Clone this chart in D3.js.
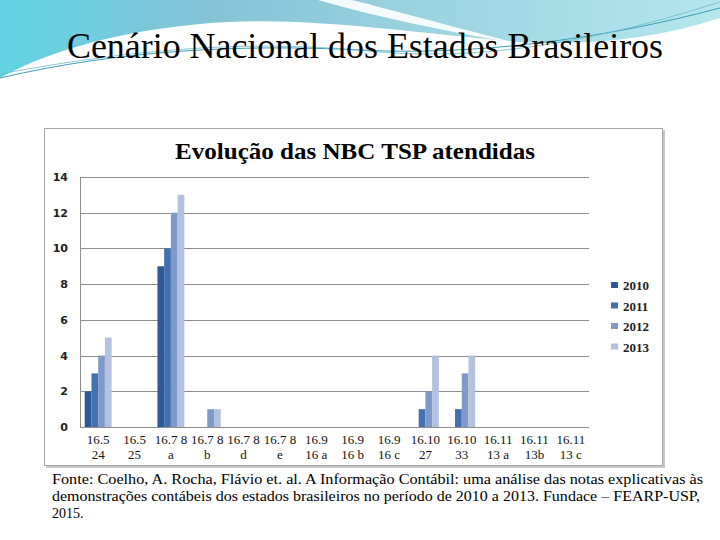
<!DOCTYPE html>
<html>
<head>
<meta charset="utf-8">
<script src="https://cdn.jsdelivr.net/npm/d3@7"></script>
<style>
  body { margin: 0; background: #fff; }
  svg { display: block; }
  .serif { font-family: 'Liberation Serif', 'Times New Roman', serif; }
</style>
</head>
<body>
<svg id="slide" width="720" height="540"></svg>
<script>
// categories (two-line labels) and one value array per year
var categories = ['16.5 24', '16.5 25', '16.7 8 a', '16.7 8 b', '16.7 8 d', '16.7 8 e',
  '16.9 16 a', '16.9 16 b', '16.9 16 c', '16.10 27', '16.10 33', '16.11 13 a', '16.11 13b', '16.11 13 c'];
var labelTop = ['16.5', '16.5', '16.7 8', '16.7 8', '16.7 8', '16.7 8', '16.9', '16.9', '16.9',
  '16.10', '16.10', '16.11', '16.11', '16.11'];
var labelBottom = ['24', '25', 'a', 'b', 'd', 'e', '16 a', '16 b', '16 c', '27', '33', '13 a', '13b', '13 c'];
var years = ['2010', '2011', '2012', '2013'];
var v2010 = [2, 0, 9, 0, 0, 0, 0, 0, 0, 0, 0, 0, 0, 0];
var v2011 = [3, 0, 10, 0, 0, 0, 0, 0, 0, 1, 1, 0, 0, 0];
var v2012 = [4, 0, 12, 1, 0, 0, 0, 0, 0, 2, 3, 0, 0, 0];
var v2013 = [5, 0, 13, 1, 0, 0, 0, 0, 0, 4, 4, 0, 0, 0];
var yTicks = [0, 2, 4, 6, 8, 10, 12, 14];

var series = [v2010, v2011, v2012, v2013];
var colors = ['#2d5a96', '#4270b0', '#7f99c9', '#b3c2df'];

const drawSlide = () => {
  var svg = d3.select('#slide');

  // decorative header swoosh
  var defs = svg.append('defs');
  var grad = defs.append('linearGradient').attr('id', 'sky')
    .attr('x1', '0').attr('y1', '0').attr('x2', '1').attr('y2', '0');
  grad.append('stop').attr('offset', '0').attr('stop-color', '#62d3e3');
  grad.append('stop').attr('offset', '0.3').attr('stop-color', '#86c3d6');
  grad.append('stop').attr('offset', '0.65').attr('stop-color', '#9fd6e2');
  grad.append('stop').attr('offset', '1').attr('stop-color', '#b6e6ee');

  svg.append('path')
    .attr('d', 'M0,0 L720,0 L720,18 C660,38 590,46 520,42 C420,34 300,14 200,24 C110,32 40,55 0,78 Z')
    .attr('fill', 'url(#sky)');
  svg.append('path')
    .attr('d', 'M318,0 C380,18 450,32 520,44 C450,26 400,12 352,0 Z')
    .attr('fill', '#ffffff').attr('opacity', 0.9);
  svg.append('path')
    .attr('d', 'M0,78 C120,50 240,44 360,50 C470,56 600,40 720,8')
    .attr('fill', 'none').attr('stroke', '#3f9fb5').attr('stroke-width', 1);
  svg.append('path')
    .attr('d', 'M0,74 C150,46 260,40 380,52 C500,62 620,34 720,2')
    .attr('fill', 'none').attr('stroke', '#6dbdcc').attr('stroke-width', 0.8);

  svg.append('text')
    .attr('class', 'serif')
    .attr('x', 67).attr('y', 58)
    .attr('textLength', 596).attr('lengthAdjust', 'spacingAndGlyphs')
    .style('font-size', '36px')
    .attr('fill', '#000')
    .text('Cenário Nacional dos Estados Brasileiros');

  // chart frame
  svg.append('rect')
    .attr('x', 46).attr('y', 130).attr('width', 619).attr('height', 338)
    .attr('fill', '#c8c8c8');
  svg.append('rect')
    .attr('x', 44.5).attr('y', 128.5).attr('width', 618).attr('height', 337)
    .attr('fill', '#fff').attr('stroke', '#a6a6a6');

  svg.append('text')
    .attr('class', 'serif')
    .attr('x', 175).attr('y', 159)
    .attr('textLength', 360).attr('lengthAdjust', 'spacingAndGlyphs')
    .style('font-size', '24px')
    .style('font-weight', 'bold')
    .text('Evolução das NBC TSP atendidas');

  var left = 80, right = 589, plotTop = 177, plotBottom = 427;

  var x = d3.scaleBand().domain(categories).range([left, right]).paddingInner(0.26).paddingOuter(0.13);
  var xs = d3.scaleBand().domain(years).range([0, x.bandwidth()]);
  var y = d3.scaleLinear().domain([0, 14]).range([plotBottom, plotTop]);

  svg.append('g').selectAll('line')
    .data(yTicks)
    .enter()
    .append('line')
    .attr('x1', left).attr('x2', right)
    .attr('y1', function(d) { return Math.round(y(d)) + 0.5; })
    .attr('y2', function(d) { return Math.round(y(d)) + 0.5; })
    .attr('stroke', '#8e8e8e');
  svg.append('line')
    .attr('x1', left + 0.5).attr('x2', left + 0.5)
    .attr('y1', plotTop).attr('y2', plotBottom + 1)
    .attr('stroke', '#8e8e8e');

  svg.append('g').selectAll('text')
    .data(yTicks)
    .enter()
    .append('text')
    .attr('x', 68).attr('y', function(d) { return y(d) + 4; })
    .attr('text-anchor', 'end')
    .style('font-family', "'DejaVu Sans', sans-serif")
    .style('font-size', '11px')
    .style('font-weight', 'bold')
    .attr('fill', '#222')
    .text(function(d) { return d; });

  var groups = svg.append('g').selectAll('g')
    .data(categories)
    .enter()
    .append('g')
    .attr('transform', function(d) { return 'translate(' + x(d) + ',0)'; });

  groups.selectAll('rect')
    .data(function(d, i) { return years.map(function(yr, k) { return { year: yr, k: k, value: series[k][i] }; }); })
    .enter()
    .append('rect')
    .attr('x', function(d) { return xs(d.year); })
    .attr('width', xs.bandwidth())
    .attr('y', function(d) { return y(d.value); })
    .attr('height', function(d) { return plotBottom - y(d.value); })
    .attr('fill', function(d) { return colors[d.k]; });

  // two-line category labels, one text per line
  var xg = svg.append('g')
    .attr('class', 'serif')
    .style('font-size', '13px')
    .attr('fill', '#111')
    .attr('text-anchor', 'middle');
  xg.selectAll('text.l1')
    .data(categories)
    .enter()
    .append('text')
    .attr('class', 'l1')
    .attr('x', function(d) { return x(d) + x.bandwidth() / 2; })
    .attr('y', 444)
    .text(function(d, i) { return labelTop[i]; });
  xg.selectAll('text.l2')
    .data(categories)
    .enter()
    .append('text')
    .attr('class', 'l2')
    .attr('x', function(d) { return x(d) + x.bandwidth() / 2; })
    .attr('y', 459)
    .text(function(d, i) { return labelBottom[i]; });

  var legend = svg.append('g').selectAll('g')
    .data(years)
    .enter()
    .append('g')
    .attr('transform', function(d, i) { return 'translate(611,' + (285 + i * 20.5) + ')'; });
  legend.append('rect')
    .attr('x', 0).attr('y', -3).attr('width', 7).attr('height', 6)
    .attr('fill', function(d, i) { return colors[i]; });
  legend.append('text')
    .attr('class', 'serif')
    .attr('x', 12).attr('y', 5)
    .style('font-size', '13px')
    .style('font-weight', 'bold')
    .attr('fill', '#222')
    .text(function(d) { return d; });

  // source note
  var notes = [
    'Fonte: Coelho, A. Rocha, Flávio et. al. A Informação Contábil: uma análise das notas explicativas às',
    'demonstrações contábeis dos estados brasileiros no período de 2010 a 2013. Fundace – FEARP-USP,',
    '2015.'
  ];
  var noteWidths = [651, 648, null];
  svg.append('g').selectAll('text')
    .data(notes)
    .enter()
    .append('text')
    .attr('class', 'serif')
    .attr('x', 52)
    .attr('y', function(d, i) { return 484 + i * 17; })
    .each(function(d, i) {
      if (noteWidths[i]) d3.select(this).attr('textLength', noteWidths[i]).attr('lengthAdjust', 'spacingAndGlyphs');
    })
    .style('font-size', '14px')
    .attr('fill', '#000')
    .text(function(d) { return d; });
};

drawSlide();
</script>
</body>
</html>
